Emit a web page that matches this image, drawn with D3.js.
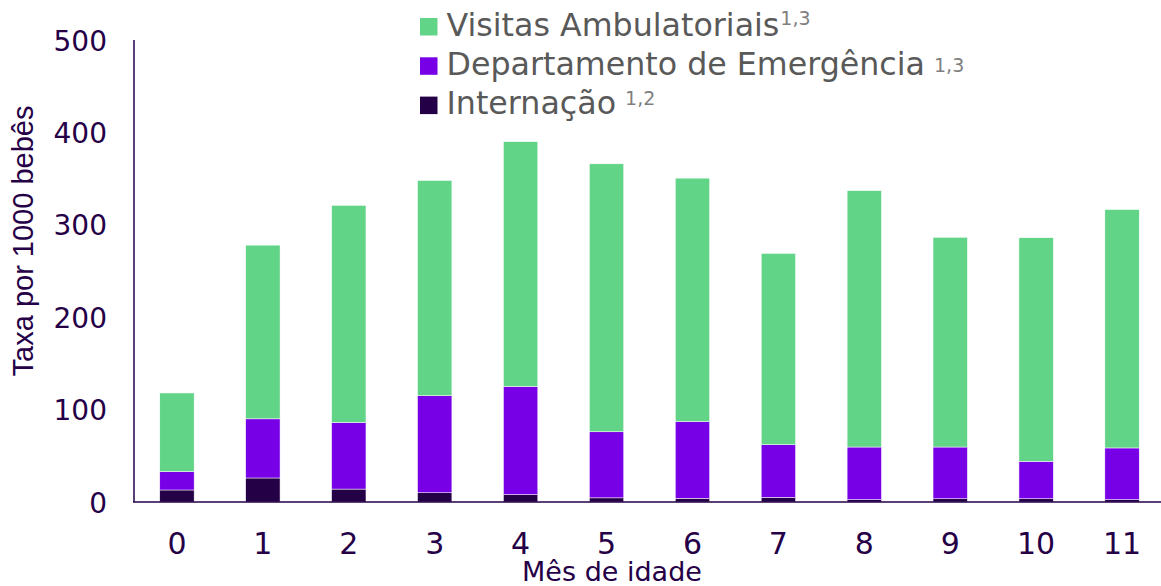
<!DOCTYPE html>
<meta charset="utf-8">
<style>
body {
  margin: 0;
  background: #fff;
}
svg {
  display: block;
}
svg text {
  font-family: "DejaVu Sans", Verdana, sans-serif;
}
.axis-line {
  stroke: #250047;
  stroke-width: 1.5;
  fill: none;
}
</style>
<body>
<script src="https://cdn.jsdelivr.net/npm/d3@7"></script>
<script>

var width = 1161,
    height = 586;

// data (rate per 1000 babies, stacked segments)
var months = ["0", "1", "2", "3", "4", "5", "6", "7", "8", "9", "10", "11"];
var internacao  = [13, 26, 14, 10, 8, 4.5, 4, 5, 2.5, 3.5, 3.5, 2.5];
var emergencia  = [20, 64, 72, 105, 117, 71.5, 83, 57, 57, 56, 40.5, 56];
var ambulatorio = [85, 188, 235, 233, 265, 290, 263.5, 207, 277.5, 227, 242, 258];
var yTicks = [0, 100, 200, 300, 400, 500];

var seriesKeys = ["internacao", "emergencia", "ambulatorio"];
var colors = {internacao: "#240046", emergencia: "#7800e6", ambulatorio: "#62d488"};

var legendItems = [
  {key: "ambulatorio", label: "Visitas Ambulatoriais", sup: "1,3", gap: 1, rise: -10.5},
  {key: "emergencia", label: "Departamento de Emergência", sup: "1,3", gap: 9, rise: -3},
  {key: "internacao", label: "Internação", sup: "1,2", gap: 9, rise: -9}
];

var rows = months.map(function(m, i) {
  return {month: m, internacao: internacao[i], emergencia: emergencia[i], ambulatorio: ambulatorio[i]};
});

var svg = d3.select("body").append("svg")
    .attr("width", width)
    .attr("height", height);

var x = d3.scaleBand()
    .domain(months)
    .range([134, 1165])
    .paddingInner(0.6)
    .paddingOuter(0.3);

var y = d3.scaleLinear()
    .domain([0, 500])
    .range([502, 40]);

var stacked = d3.stack().keys(seriesKeys)(rows);

svg.selectAll(".layer")
    .data(stacked)
  .enter().append("g")
    .attr("class", "layer")
    .attr("fill", function(d) { return colors[d.key]; })
  .selectAll("rect")
    .data(function(d) { return d; })
  .enter().append("rect")
    .attr("x", function(d) { return x(d.data.month); })
    .attr("y", function(d) { return y(d[1]); })
    .attr("width", x.bandwidth())
    .attr("height", function(d) { return y(d[0]) - y(d[1]); })
    .attr("stroke", "#ffffff")
    .attr("stroke-width", 0.5);

// axes: plain lines, no tick marks
var yAxis = svg.append("g")
    .attr("transform", "translate(134,0)")
    .call(d3.axisLeft(y).tickValues(yTicks).tickSize(0).tickPadding(27));
yAxis.select(".domain").remove();
yAxis.selectAll("text")
    .attr("fill", "#250047")
    .style("font-size", "28px")
    .attr("dy", "0.36em");

var xAxis = svg.append("g")
    .attr("transform", "translate(0,502)")
    .call(d3.axisBottom(x).tickSize(0).tickPadding(31));
xAxis.select(".domain").remove();
xAxis.selectAll("text")
    .attr("fill", "#250047")
    .style("font-size", "30px")
    .attr("dy", "0.71em");

svg.append("line")
    .attr("class", "axis-line")
    .attr("x1", 134).attr("x2", 134)
    .attr("y1", y(500)).attr("y2", y(0));

svg.append("line")
    .attr("class", "axis-line")
    .attr("x1", 133).attr("x2", width)
    .attr("y1", y(0)).attr("y2", y(0));

// axis titles
svg.append("text")
    .attr("x", 612)
    .attr("y", 581)
    .attr("text-anchor", "middle")
    .attr("fill", "#250047")
    .style("font-size", "27px")
    .text("Mês de idade");

svg.append("text")
    .attr("transform", "translate(33,241) rotate(-90)")
    .attr("text-anchor", "middle")
    .attr("fill", "#250047")
    .style("font-family", "'Liberation Sans', Arial, sans-serif")
    .style("font-size", "29px")
    .text("Taxa por 1000 bebês");

// legend
var legend = svg.append("g")
    .attr("transform", "translate(420,18)");

var item = legend.selectAll(".item")
    .data(legendItems)
  .enter().append("g")
    .attr("class", "item")
    .attr("transform", function(d, i) { return "translate(0," + (i * 39.3) + ")"; });

item.append("rect")
    .attr("width", 17.5)
    .attr("height", 17.5)
    .attr("fill", function(d) { return colors[d.key]; });

item.append("text")
    .attr("x", 26.5)
    .attr("y", 17.5)
    .attr("fill", "#595959")
    .style("font-size", "31.7px")
    .text(function(d) { return d.label; })
  .append("tspan")
    .attr("dx", function(d) { return d.gap; })
    .attr("dy", function(d) { return d.rise; })
    .style("font-size", "19px")
    .attr("fill", "#7f7f7f")
    .text(function(d) { return d.sup; });

</script>
